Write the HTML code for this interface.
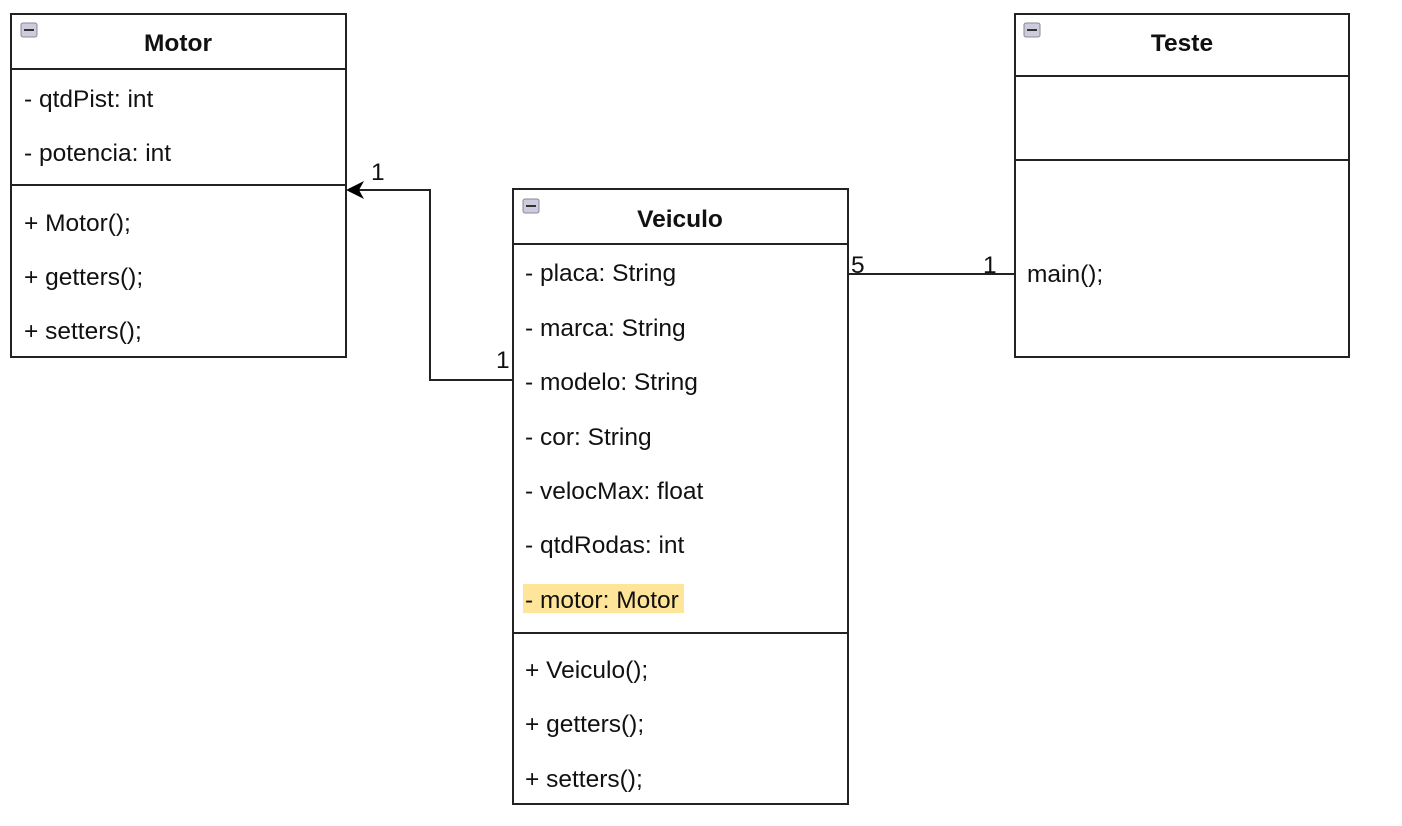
<!DOCTYPE html>
<html><head><meta charset="utf-8"><style>
html,body{margin:0;padding:0;background:#fff;}
svg{display:block}
text{font-family:"Liberation Sans",Arial,sans-serif;font-size:24.5px;fill:#111;}
.b{font-weight:bold;}
</style></head><body>
<svg width="1402" height="826" viewBox="0 0 1402 826" xmlns="http://www.w3.org/2000/svg">
<g fill="none" stroke="#222" stroke-width="2">
<rect x="11" y="14" width="335" height="343"/>
<line x1="11" y1="69" x2="346" y2="69"/>
<line x1="11" y1="185" x2="346" y2="185"/>
<rect x="513" y="189" width="335" height="615"/>
<line x1="513" y1="244" x2="848" y2="244"/>
<line x1="513" y1="633" x2="848" y2="633"/>
<rect x="1015" y="14" width="334" height="343"/>
<line x1="1015" y1="76" x2="1349" y2="76"/>
<line x1="1015" y1="160" x2="1349" y2="160"/>
<polyline points="513,380 430,380 430,190 352,190"/>
<line x1="848" y1="274" x2="1015" y2="274"/>
</g>
<polygon points="346,190 364,181 359,190 364,199" fill="#000"/>
<g>
<rect x="21" y="23" width="16" height="14" rx="2" fill="#ccd" stroke="#889" stroke-width="1"/>
<line x1="24" y1="30" x2="34" y2="30" stroke="#333" stroke-width="2"/>
<rect x="523" y="199" width="16" height="14" rx="2" fill="#ccd" stroke="#889" stroke-width="1"/>
<line x1="526" y1="206" x2="536" y2="206" stroke="#333" stroke-width="2"/>
<rect x="1024" y="23" width="16" height="14" rx="2" fill="#ccd" stroke="#889" stroke-width="1"/>
<line x1="1027" y1="30" x2="1037" y2="30" stroke="#333" stroke-width="2"/>
</g>
<rect x="523" y="584" width="161" height="29" fill="#ffe59a"/>
<text class="b" x="178" y="51" text-anchor="middle">Motor</text>
<text x="24" y="107">- qtdPist: int</text>
<text x="24" y="161">- potencia: int</text>
<text x="24" y="231">+ Motor();</text>
<text x="24" y="285">+ getters();</text>
<text x="24" y="339">+ setters();</text>
<text class="b" x="680" y="227" text-anchor="middle">Veiculo</text>
<text x="525" y="281">- placa: String</text>
<text x="525" y="336">- marca: String</text>
<text x="525" y="390">- modelo: String</text>
<text x="525" y="445">- cor: String</text>
<text x="525" y="499">- velocMax: float</text>
<text x="525" y="553">- qtdRodas: int</text>
<text x="525" y="608">- motor: Motor</text>
<text x="525" y="678">+ Veiculo();</text>
<text x="525" y="732">+ getters();</text>
<text x="525" y="787">+ setters();</text>
<text class="b" x="1182" y="51" text-anchor="middle">Teste</text>
<text x="1027" y="282">main();</text>
<text x="371" y="180">1</text>
<text x="496" y="368">1</text>
<text x="851" y="273">5</text>
<text x="983" y="273">1</text>
</svg>
</body></html>
